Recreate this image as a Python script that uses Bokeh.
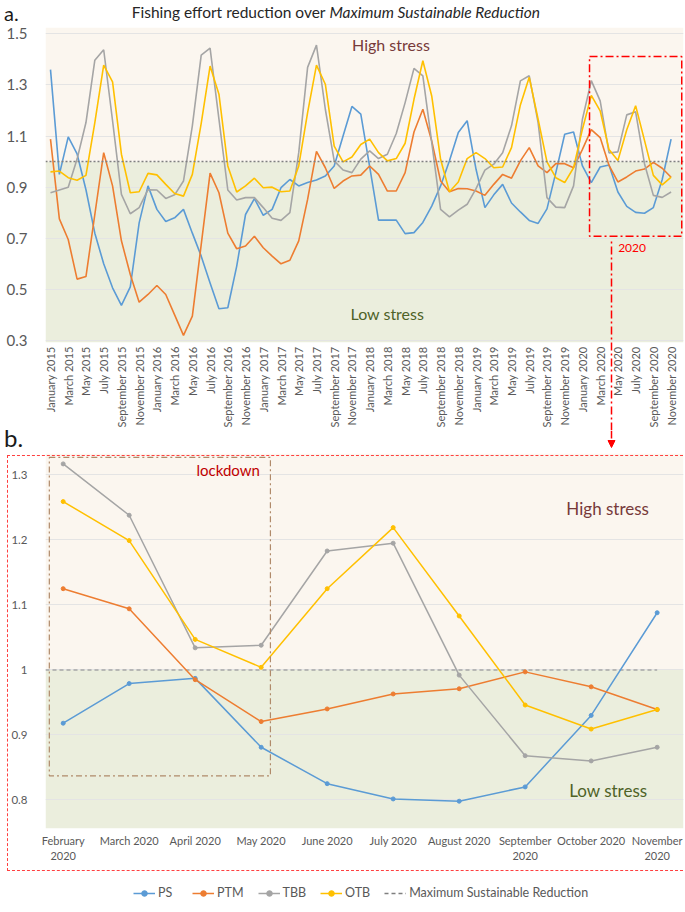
import math
import numpy as np
from bokeh.plotting import figure
from bokeh.models import (Range1d, FixedTicker, CustomJSTickFormatter, Label, BoxAnnotation,
                          Arrow, NormalHead, Span, Legend, LegendItem, LinearAxis, Div)
from bokeh.layouts import column
from bokeh.embed import file_html
from bokeh.resources import INLINE

FONT = "Lato"

# ---------------- data ----------------
month_names = ["January", "February", "March", "April", "May", "June", "July",
               "August", "September", "October", "November", "December"]
months = [f"{m} {y}" for y in range(2015, 2021) for m in month_names][:71]   # Jan 2015 .. Nov 2020
x_idx = list(range(len(months)))

PS = [1.36, 0.95, 1.097, 1.03, 0.89, 0.72, 0.60, 0.506, 0.437, 0.51, 0.76, 0.905,
      0.813, 0.766, 0.78, 0.813, 0.72, 0.63, 0.525, 0.424, 0.428, 0.59, 0.793, 0.855,
      0.79, 0.813, 0.898, 0.93, 0.905, 0.918, 0.928, 0.944, 0.983, 1.10, 1.216, 1.186,
      0.98, 0.771, 0.771, 0.771, 0.718, 0.722, 0.762, 0.826, 0.905, 1.003, 1.114, 1.16,
      0.97, 0.82, 0.87, 0.911, 0.838, 0.803, 0.77, 0.758, 0.815, 0.957, 1.107, 1.116,
      0.983, 0.918, 0.979, 0.987, 0.881, 0.825, 0.8015, 0.798, 0.82, 0.93, 1.088]
PTM = [1.088, 0.776, 0.695, 0.54, 0.55, 0.793, 1.035, 0.905, 0.69, 0.558, 0.45, 0.48,
       0.515, 0.48, 0.40, 0.32, 0.395, 0.675, 0.955, 0.878, 0.72, 0.659, 0.67, 0.708,
       0.663, 0.63, 0.60, 0.614, 0.69, 0.852, 1.04, 0.976, 0.895, 0.924, 0.944, 0.947,
       0.983, 0.95, 0.885, 0.885, 0.957, 1.116, 1.205, 1.081, 0.924, 0.882, 0.895, 0.894,
       0.885, 0.868, 0.911, 0.95, 0.935, 1.003, 1.055, 0.983, 0.957, 0.992, 0.992, 0.976,
       1.048, 1.125, 1.094, 0.985, 0.9205, 0.94, 0.963, 0.971, 0.997, 0.974, 0.939]
TBB = [0.878, 0.889, 0.90, 1.01, 1.153, 1.397, 1.438, 1.16, 0.872, 0.796, 0.82, 0.89,
       0.889, 0.856, 0.87, 0.924, 1.14, 1.417, 1.444, 1.166, 0.889, 0.85, 0.859, 0.859,
       0.82, 0.778, 0.77, 0.80, 1.035, 1.369, 1.456, 1.205, 1.003, 0.967, 0.957, 1.01,
       1.042, 1.012, 1.029, 1.11, 1.231, 1.365, 1.336, 1.075, 0.813, 0.784, 0.81, 0.833,
       0.894, 0.967, 0.99, 1.035, 1.14, 1.316, 1.336, 1.153, 0.859, 0.822, 0.82, 0.905,
       1.166, 1.317, 1.238, 1.034, 1.038, 1.183, 1.195, 0.992, 0.868, 0.86, 0.881]
OTB = [0.96, 0.963, 0.937, 0.927, 0.946, 1.153, 1.378, 1.312, 1.029, 0.878, 0.882, 0.954,
       0.948, 0.911, 0.875, 0.865, 0.95, 1.15, 1.374, 1.264, 0.983, 0.881, 0.905, 0.935,
       0.898, 0.90, 0.882, 0.885, 0.983, 1.192, 1.378, 1.303, 1.061, 0.999, 1.018, 1.067,
       1.088, 1.035, 1.003, 1.012, 1.072, 1.244, 1.395, 1.257, 1.009, 0.882, 0.92, 1.012,
       1.035, 1.012, 0.976, 0.979, 1.055, 1.222, 1.33, 1.166, 0.999, 0.937, 0.918, 0.976,
       1.127, 1.259, 1.199, 1.047, 1.004, 1.125, 1.219, 1.083, 0.946, 0.909, 0.939]
MSR = 1.0   # Maximum Sustainable Reduction

a_ticks = [0.3, 0.5, 0.7, 0.9, 1.1, 1.3, 1.5]
b_ticks = [0.8, 0.9, 1.0, 1.1, 1.2, 1.3]
B_START = 61  # February 2020
b_labels = ["February\n2020", "March 2020", "April 2020", "May 2020", "June 2020",
            "July 2020", "August 2020", "September\n2020", "October 2020", "November\n2020"]
b_idx = list(range(len(b_labels)))

series = [("PS", PS, "#5B9BD5"), ("PTM", PTM, "#ED7D31"),
          ("TBB", TBB, "#A5A5A5"), ("OTB", OTB, "#FFC000")]

GREEN = "#EBEEDD"
BEIGE = "#FBF6EF"
GRID = "#E4E4E4"
TXT = "#595959"
RED = "#FF0000"
DASHDOT = "8 3 2 3"
FW = 638        # common frame width (frames of a column are aligned)
LB, RB = 45, 2  # left / right borders


def style_axis(ax, size):
    ax.axis_line_color = None
    ax.major_tick_line_color = None
    ax.minor_tick_line_color = None
    ax.major_tick_out = 0
    ax.major_tick_in = 0
    ax.major_label_text_font = FONT
    ax.major_label_text_font_size = size
    ax.major_label_text_color = TXT


def strip(height):
    # a plain strip whose data units are page pixels (x) and pixels from its bottom (y)
    p = figure(frame_width=FW, frame_height=height, x_range=Range1d(LB, LB + FW),
               y_range=Range1d(0, height), x_axis_type=None, y_axis_type=None,
               output_backend="svg", toolbar_location=None,
               min_border_left=LB, min_border_right=RB, min_border_top=0, min_border_bottom=0,
               outline_line_color=None, background_fill_color="white", border_fill_color="white")
    p.grid.visible = False
    return p


def overlay_text(text, left, top, size):
    return Div(text=text, width=40, height=int(size * 1.25),
               styles={"position": "absolute", "left": f"{left}px", "top": f"{top}px",
                       "font-family": FONT, "font-size": f"{size}px",
                       "line-height": f"{int(size * 1.2)}px",
                       "color": "#1A1A1A", "pointer-events": "none", "z-index": "10",
                       "margin": "0", "padding": "0"})


# ---------------- header: title ----------------
H_H = 24
ph = strip(H_H)
ph.add_layout(Label(x=325, y=H_H - 11, text="Fishing effort reduction over", text_align="right",
                    text_baseline="middle", text_font=FONT, text_font_size="15.5px", text_color="#262626"))
ph.add_layout(Label(x=329, y=H_H - 11, text="Maximum Sustainable Reduction", text_align="left",
                    text_baseline="middle", text_font=FONT, text_font_size="15.5px",
                    text_font_style="italic", text_color="#262626"))

# ---------------- panel a ----------------
XA0, XA1 = -0.564, 71.4
YA0, YA1 = 0.292, 1.525
pa = figure(frame_width=FW, frame_height=315, x_range=Range1d(XA0, XA1), y_range=Range1d(YA0, YA1),
            output_backend="svg", toolbar_location=None,
            min_border_left=LB, min_border_right=RB, min_border_top=3, min_border_bottom=0,
            outline_line_color=None, background_fill_color="white", border_fill_color="white")
pa.quad(left=[XA0], right=[XA1], bottom=[YA0], top=[MSR], fill_color=GREEN, line_color=None, level="image")
pa.quad(left=[XA0], right=[XA1], bottom=[MSR], top=[YA1], fill_color=BEIGE, line_color=None, level="image")
pa.add_layout(Span(location=MSR, dimension="width", line_color="#7F7F7F", line_dash="2 2", line_width=1.5))
for name, ys, col in series:
    pa.line(x_idx, ys, line_color=col, line_width=1.6)

pa.xgrid.grid_line_color = None
pa.ygrid.ticker = FixedTicker(ticks=a_ticks)
pa.ygrid.grid_line_color = GRID
pa.yaxis.ticker = FixedTicker(ticks=a_ticks)
pa.xaxis.ticker = FixedTicker(ticks=x_idx[::2])
pa.xaxis.major_label_overrides = {i: months[i] for i in x_idx[::2]}
pa.xaxis.major_label_orientation = math.pi / 2
style_axis(pa.xaxis[0], "11px")
style_axis(pa.yaxis[0], "15px")
pa.xaxis.major_label_standoff = 4
pa.yaxis.major_label_standoff = 18

pa.add_layout(Label(x=38.4, y=1.458, text="High stress", text_align="center", text_baseline="middle",
                    text_font=FONT, text_font_size="16px", text_color="#773A3A"))
pa.add_layout(Label(x=38.0, y=0.406, text="Low stress", text_align="center", text_baseline="middle",
                    text_font=FONT, text_font_size="16px", text_color="#4F6228"))
pa.add_layout(BoxAnnotation(left=60.8, right=71.2, top=1.411, bottom=0.708, fill_color=None,
                            line_color=RED, line_dash=DASHDOT, line_width=1.5, line_alpha=1))
pa.add_layout(Label(x=65.6, y=0.66, text="2020", text_align="center", text_baseline="middle",
                    text_font=FONT, text_font_size="12px", text_color=RED))
# connector from the 2020 box down to panel b: the single long tick of a bare axis
CONN_X = 63.28
conn_axis = LinearAxis(ticker=FixedTicker(ticks=[CONN_X]),
                       formatter=CustomJSTickFormatter(code="return '';"),
                       axis_line_color=None, minor_tick_line_color=None,
                       major_tick_line_color=RED, major_tick_line_width=1.5,
                       major_tick_line_dash=DASHDOT, major_tick_in=191, major_tick_out=0,
                       major_label_text_font_size="1px", major_label_standoff=0)
pa.add_layout(conn_axis, "below")

# ---------------- strip with the arrow head ----------------
M_H = 18
pm = strip(M_H)
pm.add_layout(Arrow(x_start=611, y_start=M_H, x_end=611, y_end=1,
                    line_color=RED, line_dash=DASHDOT, line_width=1.5,
                    end=NormalHead(size=7, fill_color=RED, line_color=RED)))

# ---------------- panel b ----------------
XB0, XB1 = -0.268, 9.399
YB0, YB1 = 0.756, 1.333
pb = figure(frame_width=FW, frame_height=375, x_range=Range1d(XB0, XB1), y_range=Range1d(YB0, YB1),
            output_backend="svg", toolbar_location=None,
            min_border_left=LB, min_border_right=RB, min_border_top=5, min_border_bottom=38,
            outline_line_color=None, background_fill_color="white", border_fill_color="white")
pb.quad(left=[XB0], right=[XB1], bottom=[YB0], top=[MSR], fill_color=GREEN, line_color=None, level="image")
pb.quad(left=[XB0], right=[XB1], bottom=[MSR], top=[YB1], fill_color=BEIGE, line_color=None, level="image")
pb.line([XB0, b_idx[-1]], [MSR, MSR], line_color="#A6A6A6", line_dash="4 3", line_width=1.5)

for name, ys, col in series:
    yb = ys[B_START:B_START + len(b_labels)]
    pb.line(b_idx, yb, line_color=col, line_width=1.5)
    pb.scatter(b_idx, yb, size=4, marker="circle", fill_color=col, line_color=col)

pb.xgrid.grid_line_color = None
pb.ygrid.ticker = FixedTicker(ticks=b_ticks)
pb.ygrid.grid_line_color = GRID
pb.yaxis.ticker = FixedTicker(ticks=b_ticks)
pb.yaxis.formatter = CustomJSTickFormatter(code="return Math.abs(tick - 1) < 1e-9 ? '1' : tick.toFixed(1);")
pb.xaxis.ticker = FixedTicker(ticks=b_idx)
pb.xaxis.major_label_overrides = {i: b_labels[i] for i in b_idx}
style_axis(pb.xaxis[0], "11px")
style_axis(pb.yaxis[0], "11.5px")
pb.xaxis.major_label_standoff = 5
pb.yaxis.major_label_standoff = 18

pb.add_layout(BoxAnnotation(left=-0.21, right=3.14, top=1.327, bottom=0.837, fill_color=None,
                            line_color="#B08A6A", line_dash="6 3 2 3", line_width=1.2, line_alpha=1))
pb.add_layout(Label(x=2.5, y=1.307, text="lockdown", text_align="center", text_baseline="middle",
                    text_font=FONT, text_font_size="15px", text_color="#C00000"))
pb.add_layout(Label(x=8.25, y=1.249, text="High stress", text_align="center", text_baseline="middle",
                    text_font=FONT, text_font_size="17px", text_color="#773A3A"))
pb.add_layout(Label(x=8.26, y=0.814, text="Low stress", text_align="center", text_baseline="middle",
                    text_font=FONT, text_font_size="17px", text_color="#4F6228"))

# ---------------- legend strip ----------------
C_H = 46
pc = strip(C_H)
NA = np.array([np.nan])   # legend proxies only: nothing is plotted in this strip
items = []
for name, ys, col in series:
    r1 = pc.line(NA, NA, line_color=col, line_width=1.5)
    r2 = pc.scatter(NA, NA, size=4, marker="circle", fill_color=col, line_color=col)
    items.append(LegendItem(label=name, renderers=[r1, r2]))
rm = pc.line(NA, NA, line_color="#7F7F7F", line_dash="4 3", line_width=1.5)
items.append(LegendItem(label="Maximum Sustainable Reduction", renderers=[rm]))
legend = Legend(items=items, orientation="horizontal", location=(88, 12),
                label_text_font=FONT, label_text_font_size="12.5px", label_text_color=TXT,
                border_line_color=None, background_fill_alpha=0, glyph_width=22, glyph_height=14,
                spacing=14, label_standoff=3, padding=4, margin=0)
pc.add_layout(legend)

# page overlays: panel letters, dash frame around panel b, rule under the legend
label_a = overlay_text("a.", 4, 1, 20)
label_b = overlay_text("b.", 4, 424, 24)
frame_b = Div(width=681, height=416,
              styles={"position": "absolute", "left": "2px", "top": "450px",
                      "border": "1.3px dashed #FF4040", "box-sizing": "border-box",
                      "pointer-events": "none", "z-index": "10"})
rule = Div(width=460, height=2,
           styles={"position": "absolute", "left": "129px", "top": "908px",
                   "background-color": "#E3E3E3", "pointer-events": "none", "z-index": "10"})

layout = column(ph, pa, pm, pb, pc, frame_b, rule, label_a, label_b, spacing=0)
open("out.html", "w").write(file_html(layout, INLINE))
